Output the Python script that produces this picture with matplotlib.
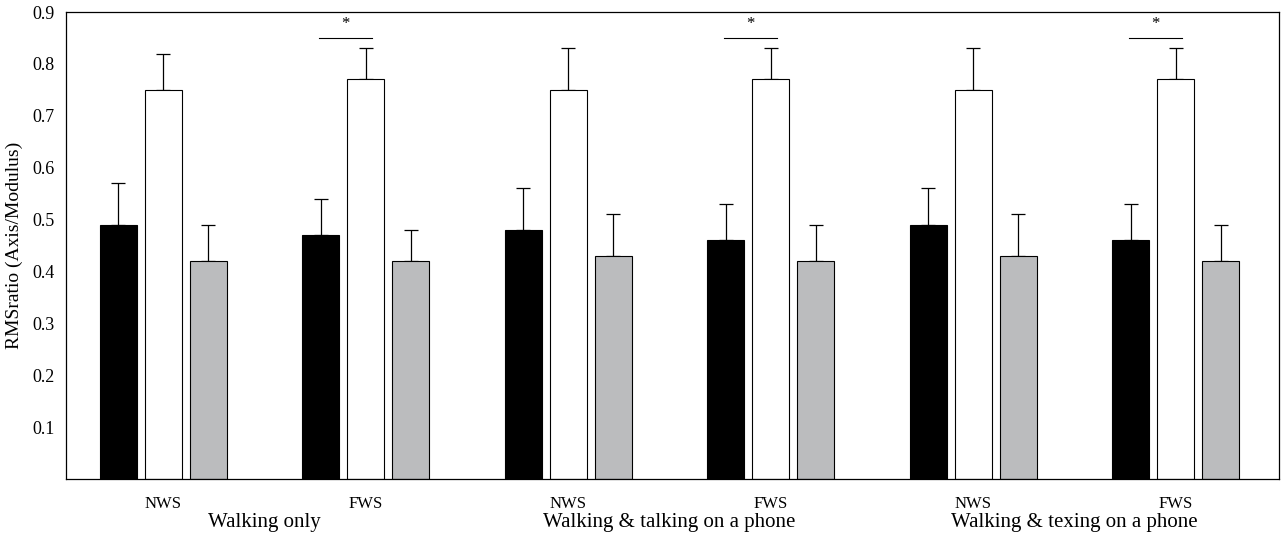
import matplotlib
matplotlib.use("Agg")
import matplotlib.pyplot as plt
import numpy as np

plt.rcParams['font.family'] = ['Liberation Serif', 'DejaVu Serif']

speeds = ["NWS", "FWS", "NWS", "FWS", "NWS", "FWS"]
conditions = ["Walking only", "Walking & talking on a phone", "Walking & texing on a phone"]

# three bars per speed group: black, white, gray
black_vals = [0.49, 0.47, 0.48, 0.46, 0.49, 0.46]
black_err = [0.08, 0.07, 0.08, 0.07, 0.07, 0.07]
white_vals = [0.75, 0.77, 0.75, 0.77, 0.75, 0.77]
white_err = [0.07, 0.06, 0.08, 0.06, 0.08, 0.06]
gray_vals = [0.42, 0.42, 0.43, 0.42, 0.43, 0.42]
gray_err = [0.07, 0.06, 0.08, 0.07, 0.08, 0.07]

sig_groups = [1, 3, 5]
sig_height = 0.85

fig = plt.figure(figsize=(12.87, 5.36), dpi=100)
ax = fig.add_axes([0.0513, 0.1063, 0.9425, 0.8713])

x = np.arange(len(speeds))
w = 0.183
step = 0.222
series = [(black_vals, black_err, "black"),
          (white_vals, white_err, "white"),
          (gray_vals, gray_err, "#bbbcbe")]
for i, (vals, err, col) in enumerate(series):
    pos = x + (i - 1) * step
    ax.bar(pos, vals, width=w, color=col, edgecolor="black", linewidth=0.8, zorder=2)
    ax.errorbar(pos, vals, yerr=[np.zeros(len(vals)), err], fmt="none",
                ecolor="black", elinewidth=0.9, capsize=5, capthick=0.9, zorder=1)

for g in sig_groups:
    ax.plot([g - step - 0.01, g + 0.03], [sig_height, sig_height], color="black", lw=0.8)
    ax.text(g - step / 2 + 0.01, sig_height + 0.012, "*", ha="center", va="bottom", fontsize=12)

ax.set_xlim(-0.48, 5.51)
ax.set_ylim(0, 0.9)
ax.set_yticks(np.arange(0.1, 0.91, 0.1))
ax.set_yticklabels([f"{v:.1f}" for v in np.arange(0.1, 0.91, 0.1)], fontsize=13)
ax.set_xticks(x)
ax.set_xticklabels(speeds, fontsize=12)
ax.tick_params(length=0, pad=12)
ax.tick_params(axis="y", pad=8)
ax.set_ylabel("RMSratio (Axis/Modulus)", fontsize=14, labelpad=7)

for k, name in enumerate(conditions):
    ax.text(2 * k + 0.5, -0.083, name, ha="center", va="center", fontsize=15,
            transform=ax.transData, clip_on=False)

for sp in ax.spines.values():
    sp.set_linewidth(0.9)

fig.savefig("out.png", dpi=100)
